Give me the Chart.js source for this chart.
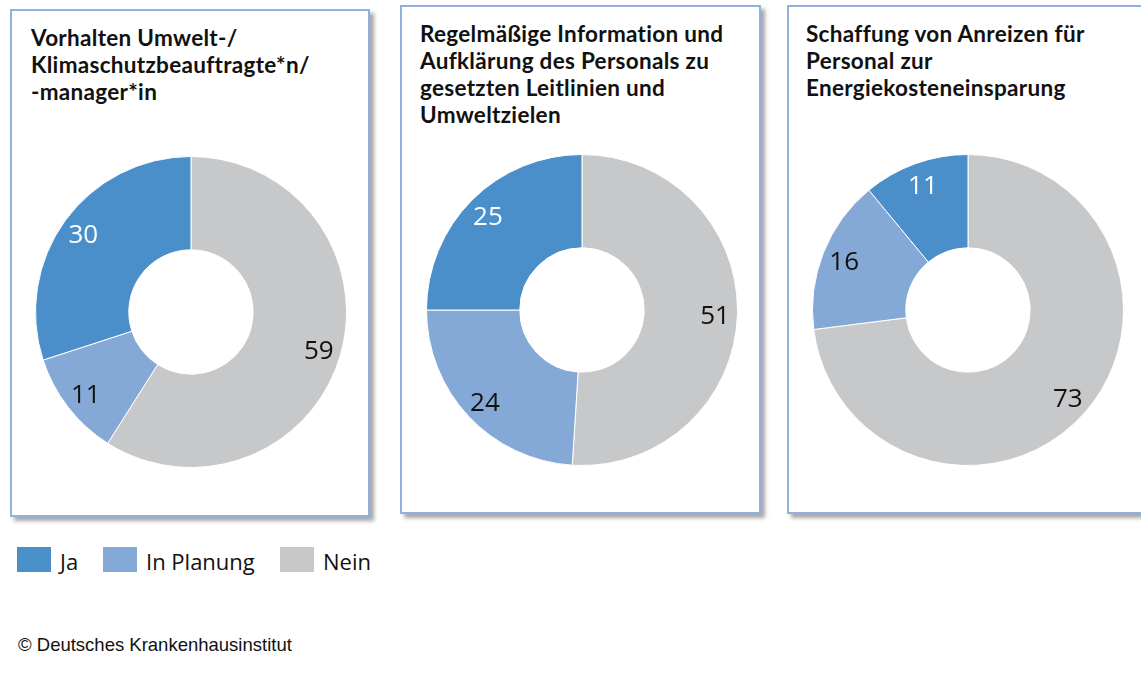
<!DOCTYPE html>
<html lang="de">
<head>
<meta charset="utf-8">
<script src="https://cdn.jsdelivr.net/npm/chart.js@4.4.1/dist/chart.umd.min.js"></script>
<style>
    html, body { margin: 0; padding: 0; background: #fff; }
    body { width: 1141px; height: 675px; position: relative; overflow: hidden; }
    .panel {
        position: absolute;
        border: 2px solid #8fb1dc;
        box-shadow: 4px 4px 4px rgba(0, 0, 0, 0.35);
        background: #fff;
        box-sizing: border-box;
    }
    .titel {
        position: absolute;
        font-family: Lato, sans-serif;
        font-weight: bold;
        font-size: 22.5px;
        letter-spacing: 0.3px;
        line-height: 27px;
        color: #111;
        white-space: nowrap;
    }
    .chartBox { position: absolute; width: 312px; height: 312px; }
    .legende {
        position: absolute; left: 17px; top: 547px;
        font-family: "Open Sans", sans-serif; font-size: 22px; color: #111;
    }
    .legende span.box {
        position: absolute; width: 34px; height: 25px; top: 0;
    }
    .legende span.txt { position: absolute; top: -1px; white-space: nowrap; }
    .quelle {
        position: absolute; left: 18px; top: 634px;
        font-family: "Liberation Sans", Arial, sans-serif; font-size: 18.5px; color: #111;
    }
</style>
</head>
<body>

<div class="panel" style="left:10px; top:9px; width:360px; height:508px;"></div>
<div class="panel" style="left:400px; top:5px; width:361px; height:509px;"></div>
<div class="panel" style="left:787px; top:5px; width:380px; height:509px;"></div>

<div class="titel" id="titel0" style="left:31px; top:24px;"></div>
<div class="titel" id="titel1" style="left:420px; top:20px;"></div>
<div class="titel" id="titel2" style="left:806px; top:20px;"></div>

<div class="chartBox" style="left:35px; top:156px;"><canvas id="chart0"></canvas></div>
<div class="chartBox" style="left:426px; top:154px;"><canvas id="chart1"></canvas></div>
<div class="chartBox" style="left:812px; top:154px;"><canvas id="chart2"></canvas></div>

<div class="legende" id="legende"></div>
<div class="quelle">© Deutsches Krankenhausinstitut</div>

<script>
// Daten
const titel = [
    ["Vorhalten Umwelt-/", "Klimaschutzbeauftragte*n/", "-manager*in"],
    ["Regelmäßige Information und", "Aufklärung des Personals zu", "gesetzten Leitlinien und", "Umweltzielen"],
    ["Schaffung von Anreizen für", "Personal zur", "Energiekosteneinsparung"]
];
const kategorien = ["Ja", "In Planung", "Nein"];
const ja = [30, 25, 11];
const inPlanung = [11, 24, 16];
const nein = [59, 51, 73];
const farben = ["#4a8fca", "#85a9d7", "#c7c8ca"];
const labelFarben = ["#ffffff", "#111111", "#111111"];

// Titel
titel.forEach(function(zeilen, i) {
    document.getElementById("titel" + i).innerHTML = zeilen.join("<br>");
});

// Legende
const legX = [0, 86, 263];
let legHtml = "";
kategorien.forEach(function(k, i) {
    legHtml += '<span class="box" style="left:' + legX[i] + 'px;background:' + farben[i] + '"></span>';
    legHtml += '<span class="txt" style="left:' + (legX[i] + 43) + 'px">' + k + '</span>';
});
document.getElementById("legende").innerHTML = legHtml;

// Beschriftung der Segmente
const wertLabels = {
    id: "wertLabels",
    afterDatasetsDraw: function(chart) {
        const ctx = chart.ctx;
        const meta = chart.getDatasetMeta(0);
        const ds = chart.data.datasets[0];
        ctx.save();
        ctx.font = "26px 'Open Sans', sans-serif";
        ctx.textAlign = "center";
        ctx.textBaseline = "middle";
        meta.data.forEach(function(arc, i) {
            const p = arc.getProps(["x", "y", "startAngle", "endAngle", "innerRadius", "outerRadius"], true);
            const winkel = (p.startAngle + p.endAngle) / 2;
            const r = p.innerRadius + 0.76 * (p.outerRadius - p.innerRadius);
            ctx.fillStyle = ds.labelColors[i];
            ctx.fillText(ds.data[i], p.x + Math.cos(winkel) * r, p.y + Math.sin(winkel) * r + 2);
        });
        ctx.restore();
    }
};

// Drei Ringdiagramme (Reihenfolge im Uhrzeigersinn: Nein, In Planung, Ja)
for (let i = 0; i < 3; i++) {
    const ctx = document.getElementById("chart" + i).getContext("2d");
    new Chart(ctx, {
        type: "doughnut",
        data: {
            labels: [kategorien[2], kategorien[1], kategorien[0]],
            datasets: [{
                data: [nein[i], inPlanung[i], ja[i]],
                backgroundColor: [farben[2], farben[1], farben[0]],
                labelColors: [labelFarben[2], labelFarben[1], labelFarben[0]],
                borderColor: "#ffffff",
                borderWidth: 1
            }]
        },
        options: {
            responsive: true,
            maintainAspectRatio: false,
            animation: false,
            cutout: "40%",
            layout: { padding: 0 },
            plugins: {
                legend: { display: false },
                tooltip: { enabled: false }
            }
        },
        plugins: [wertLabels]
    });
}
</script>
</body>
</html>
